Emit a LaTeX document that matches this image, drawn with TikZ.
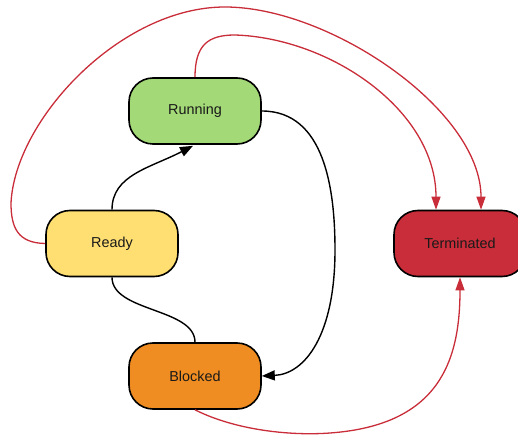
\documentclass[tikz,border=0pt]{standalone}
\usepackage{fontspec}
\setmainfont{Liberation Sans}
\usetikzlibrary{arrows.meta,calc}
\definecolor{runG}{HTML}{A3D977}
\definecolor{readyY}{HTML}{FFDF71}
\definecolor{blockO}{HTML}{EF8D22}
\definecolor{termR}{HTML}{C92D39}
\definecolor{lineR}{HTML}{C92D39}
\tikzset{
  state/.style={draw=black, line width=1.6pt, rounded corners=24pt,
    minimum width=132pt, minimum height=66pt, inner sep=0pt,
    font=\fontsize{14.4}{17}\selectfont, text=black!90},
  blk/.style={draw=black, line width=1.4pt},
  red/.style={draw=lineR, line width=1.3pt},
  blkarr/.style={-{Triangle[length=13pt,width=10pt]}},
  redarr/.style={-{Triangle[length=13pt,width=9pt]}},
}
\begin{document}
\begin{tikzpicture}[x=1pt,y=-1pt]
\useasboundingbox (0,0) rectangle (518,435);
\node[state, fill=runG] (run) at (195,111) {Running};
\node[state, fill=readyY] (rdy) at (112,243.5) {Ready};
\node[state, fill=blockO] (blk) at (195,376) {Blocked};
\node[state, fill=termR] (term) at (460,243.5) {Terminated};
\coordinate (tA) at ($(term.north)+(-24,0)$);
\coordinate (tB) at ($(term.north)+(21,0)$);
% black connectors
\draw[blk, blkarr] (rdy.north) .. controls (112,175) and (150,168) .. ($(run.south)+(-2,1)$);
\draw[blk] (rdy.south) .. controls (112,312) and (195,308) .. (blk.north);
\draw[blk, blkarr] (run.east) .. controls (325,111) and (335,190) .. (335,250)
   .. controls (335,335) and (305,374) .. (blk.east);
% red connectors
\draw[red, redarr] (rdy.west) .. controls (18,243) and (11,228) .. (11,203)
   .. controls (15,120) and (120,7) .. (225,7)
   .. controls (330,7) and (481,110) .. (tB);
\draw[red, redarr] (run.north) .. controls (195,45) and (208,35) .. (235,35)
   .. controls (330,38) and (436,110) .. (tA);
\draw[red, redarr] (blk.south) .. controls (235,430) and (290,436) .. (330,433)
   .. controls (440,425) and (460,360) .. (term.south);
\end{tikzpicture}
\end{document}
